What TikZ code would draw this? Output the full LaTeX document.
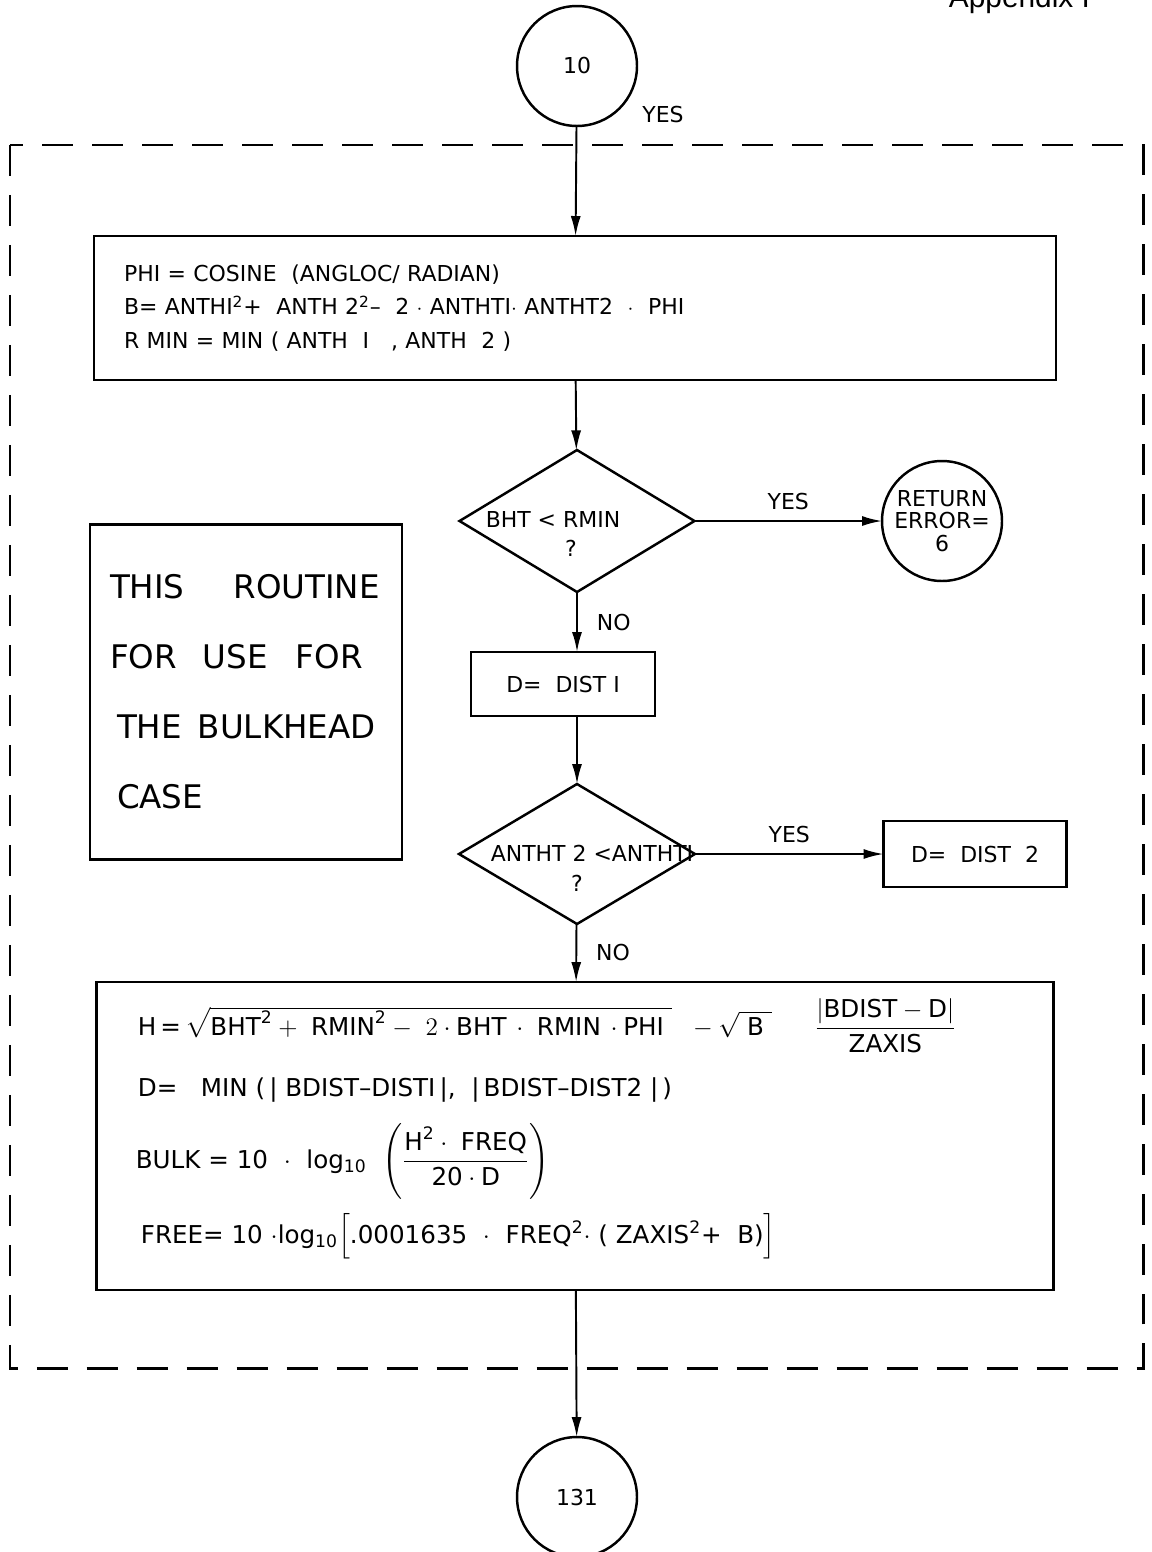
\documentclass[tikz,border=0pt]{standalone}
\usepackage{fontspec}
\setmainfont{DejaVu Sans}
\newfontfamily\headfont{Liberation Sans}
\usepackage{amsmath}
\usetikzlibrary{
positioning,
graphs,
quotes,
shapes.geometric,
arrows.meta,
}
\tikzset{
outer sep=0pt,
every node/.style={align=center, font=\fontsize{12.5}{15}\selectfont},
process/.style={rectangle, draw, line width=1.4pt, inner sep=0pt},
decision/.style={diamond, draw, line width=1.4pt, inner sep=0pt},
terminal/.style={circle, draw, line width=1.4pt, inner sep=0pt, minimum size=2.4cm},
formula/.style={anchor=base west, font=\fontsize{14}{17}\selectfont},
frame/.style={line width=1.7pt, dash pattern=on 0.62cm off 0.38cm},
flow/.style={line width=1.1pt},
>={Latex[length=4mm, width=2mm]},
}

\begin{document}
\begin{tikzpicture}[x=0.02cm, y=-0.02cm]
\useasboundingbox (0,0) rectangle (1152,1552);
\node (appx) [anchor=base west, font=\headfont\fontsize{17}{20}\selectfont] at (943,7) {Appendix I};
\draw [frame] (10,145) rectangle (1143,1368);

\node (c10) [terminal] at (577,66) {10};
\node (yes0) at (663,115) {YES};
\node (box1) [process, minimum width=19.24cm, minimum height=2.88cm,
    text width=18.04cm, inner xsep=0.6cm, align=left,
    font=\fontsize{12.5}{19}\selectfont] at (575,308) {
    PHI = COSINE \ (ANGLOC/ RADIAN)\\
    B= ANTHI\textsuperscript{2}+ \ ANTH 2\textsuperscript{2}-- \ 2 $\cdot$ ANTHTI$\cdot$ ANTHT2 \ $\cdot$ \ PHI\\
    R MIN = MIN ( ANTH \ I \ \ , ANTH \ 2 )};
\node (q1) [decision, minimum width=4.7cm, minimum height=2.84cm] at (577,521) {};
\node (q1txt) at (553,534) {BHT < RMIN\\[2pt]\hspace{0.72cm}?};
\node (ret) [terminal, font=\fontsize{12.5}{13}\selectfont] at (942,521) {RETURN\\ERROR=\\6};
\node (d1) [process, minimum width=3.68cm, minimum height=1.28cm] at (563,684) {D= \ DIST I};
\node (q2) [decision, minimum width=4.72cm, minimum height=2.8cm] at (577,854) {};
\node (q2txt) at (592,868) {ANTHT 2 <ANTHTI\\[2pt]?\hspace{0.6cm}\null};
\node (d2) [process, minimum width=3.66cm, minimum height=1.32cm] at (975,854) {D= \ DIST \ 2};
\node (note) [process, minimum width=6.24cm, minimum height=6.7cm,
    text width=5.44cm, inner xsep=0.4cm, align=left,
    font=\fontsize{18.5}{39.8}\selectfont] at (246,692) {
    THIS\hspace{0.98cm}ROUTINE\\
    FOR\hspace{0.52cm}USE\hspace{0.56cm}FOR\\
    \hspace{0.14cm}THE\hspace{0.32cm}BULKHEAD\\
    \hspace{0.14cm}CASE};
\node (box3) [process, minimum width=19.14cm, minimum height=6.16cm] at (575,1136) {};
\node (hline) [formula] at (132,1035) {H\,=\,$\sqrt{\text{BHT}^{\text{2}}+\ \text{RMIN}^{\text{2}}-\ 2\cdot\text{BHT}\,\cdot\ \text{RMIN}\,\cdot\text{PHI}\ }\ \ -\sqrt{\text{\ B\ }}$\hspace{0.85cm}$\dfrac{|\text{BDIST}-\text{D}|}{\text{ZAXIS}}$};
\node (dline) [formula] at (132,1096) {D=\ \ \ MIN (\,|\ BDIST--DISTI\,|,\ \ |\,BDIST--DIST2\ |\,)};
\node (bline) [formula] at (130,1168) {BULK = 10 \ $\cdot$ \ log$_{\text{10}}$ \ $\left(\dfrac{\text{H}^{\text{2}}\cdot\ \text{FREQ}}{\text{20}\cdot\text{D}}\right)$};
\node (fline) [formula] at (135,1243) {FREE= 10 $\cdot$log$_{\text{10}}\Bigl[$.0001635 \ $\cdot$ \ FREQ$^{\text{2}}\cdot$ ( ZAXIS$^{\text{2}}$+ \ B)$\Bigr]$};
\node (c131) [terminal] at (577,1497) {131};

\graph [use existing nodes, edges={flow}] {
    c10 -> box1 -> q1 -> ["YES" above=3pt] ret;
    q2 -> ["YES" above=3pt] d2;
    q2 -> ["NO" right=8pt] box3 -> c131;
};
\draw [flow, ->] (q1) -- (q1 |- d1.north) node [midway, right=8pt] {NO};
\draw [flow, ->] (d1.south -| q2) -- (q2);
\end{tikzpicture}
\end{document}
